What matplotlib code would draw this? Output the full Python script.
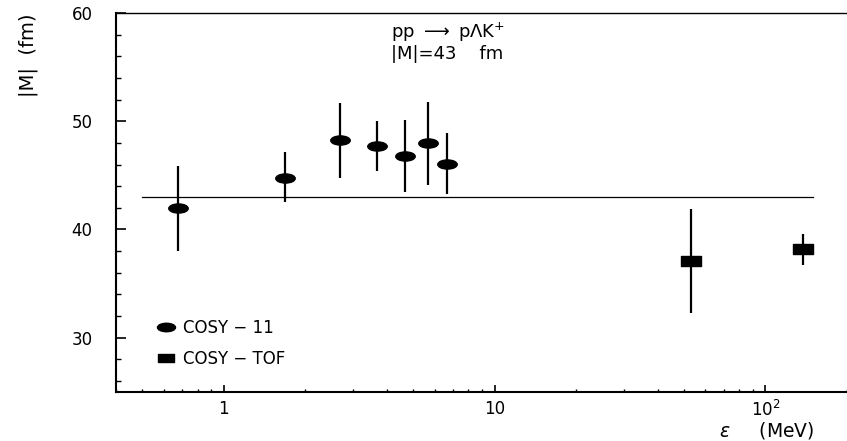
import numpy as np
import matplotlib
matplotlib.use("Agg")
import matplotlib.pyplot as plt
from matplotlib.path import Path
from matplotlib.transforms import Affine2D
from matplotlib.lines import Line2D
from matplotlib.ticker import FixedLocator, FixedFormatter, MultipleLocator, NullFormatter

plt.rcParams["font.family"] = ["DejaVu Sans"]
plt.rcParams["mathtext.fontset"] = "dejavusans"

# ---- data ----
cosy11_eps = [0.68, 1.68, 2.68, 3.68, 4.68, 5.68, 6.68]
cosy11_m   = [42.0, 44.8, 48.3, 47.7, 46.8, 48.0, 46.1]
cosy11_lo  = [38.0, 42.5, 44.8, 45.4, 43.5, 44.1, 43.3]
cosy11_hi  = [45.9, 47.2, 51.7, 50.0, 50.1, 51.8, 48.9]

tof_eps = [53.0, 137.0]
tof_m   = [37.1, 38.2]
tof_lo  = [32.3, 36.7]
tof_hi  = [41.9, 39.6]

fit_m = 43.0
fit_range = [0.5, 150.0]

xtick_vals   = [1, 10, 100]
xtick_labels = ["1", "10", "$10^{2}$"]
ytick_vals   = [30, 40, 50, 60]

# ---- marker shapes: flat ellipse and flat rectangle ----
ell = Path.unit_circle().transformed(Affine2D().scale(1.0, 0.47))
rect = Path([(-1, -0.5), (1, -0.5), (1, 0.5), (-1, 0.5), (-1, -0.5)],
            [Path.MOVETO, Path.LINETO, Path.LINETO, Path.LINETO, Path.CLOSEPOLY])

fig = plt.figure(figsize=(8.47, 4.41), dpi=100)
ax = fig.add_axes([0.137, 0.112, 0.863, 0.858])

err11 = [np.array(cosy11_m) - np.array(cosy11_lo), np.array(cosy11_hi) - np.array(cosy11_m)]
errtof = [np.array(tof_m) - np.array(tof_lo), np.array(tof_hi) - np.array(tof_m)]

ax.plot(fit_range, [fit_m, fit_m], color="black", lw=0.9)
ax.errorbar(cosy11_eps, cosy11_m, yerr=err11, fmt="none", ecolor="black", elinewidth=1.6, capsize=0)
ax.plot(cosy11_eps, cosy11_m, ls="none", marker=ell, ms=14, color="black")
ax.errorbar(tof_eps, tof_m, yerr=errtof, fmt="none", ecolor="black", elinewidth=1.6, capsize=0)
ax.plot(tof_eps, tof_m, ls="none", marker=rect, ms=14, color="black")

ax.set_xscale("log")
ax.set_xlim(0.4, 200)
ax.set_ylim(25, 60)

ax.xaxis.set_major_locator(FixedLocator(xtick_vals))
ax.xaxis.set_major_formatter(FixedFormatter(xtick_labels))
ax.xaxis.set_minor_formatter(NullFormatter())
ax.yaxis.set_major_locator(FixedLocator(ytick_vals))
ax.yaxis.set_minor_locator(MultipleLocator(2))

ax.tick_params(axis="both", which="both", direction="in", top=False, right=False, labelsize=12)
ax.tick_params(axis="y", which="major", length=7, width=1.2, pad=17)
ax.tick_params(axis="y", which="minor", length=3.6, width=1.0)
ax.tick_params(axis="x", which="major", length=5, width=1.2, pad=6)
ax.tick_params(axis="x", which="minor", length=2.5, width=1.0)

ax.spines["right"].set_visible(False)
ax.spines["left"].set_linewidth(1.5)
ax.spines["bottom"].set_linewidth(1.5)
ax.spines["top"].set_linewidth(1.0)

ax.set_ylabel("|M|  (fm)", fontsize=14)
ax.yaxis.set_label_coords(-0.107, 0.89)
ax.text(0.825, -0.103, r"$\varepsilon$     (MeV)", transform=ax.transAxes, fontsize=13.5,
        ha="left", va="center")

ax.text(0.376, 0.95, r"pp $\longrightarrow$ p$\Lambda$K$^{+}$", transform=ax.transAxes,
        fontsize=13, ha="left", va="center")
ax.text(0.376, 0.893, "|M|=43    fm", transform=ax.transAxes, fontsize=13,
        ha="left", va="center")

handles = [Line2D([], [], ls="none", marker=ell, ms=13, color="black"),
           Line2D([], [], ls="none", marker=rect, ms=12, color="black")]
ax.legend(handles, ["COSY − 11", "COSY − TOF"], loc="center left",
          bbox_to_anchor=(0.0568, 0.127), frameon=False, fontsize=12,
          handlelength=1.0, handletextpad=0.5, labelspacing=0.75,
          borderpad=0, borderaxespad=0)

fig.savefig("out.png", dpi=100)
